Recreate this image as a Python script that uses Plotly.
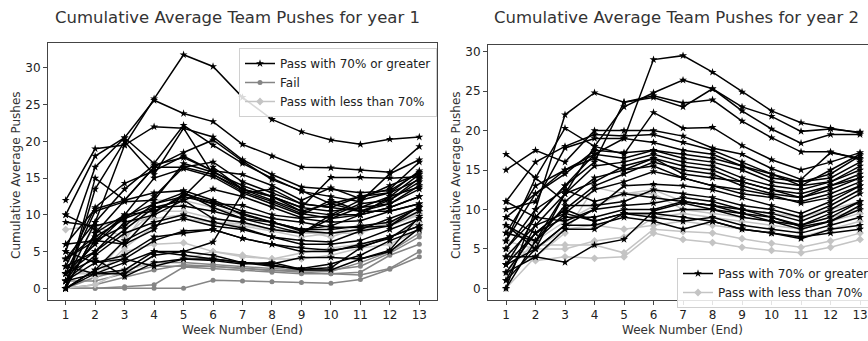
import plotly.graph_objects as go

weeks = list(range(1, 14))
week_labels = [str(w) for w in weeks]

# ---------------- Year 1 ----------------
y1_pass_high = [
    [1, 9, 19.5, 25.8, 31.8, 30.2, 26.0, 23.0, 21.3, 20.2, 19.6, 20.3, 20.6],
    [10, 18, 20.5, 25.6, 23.8, 22.7, 19.6, 18.0, 16.5, 16.4, 16.1, 15.8, 19.3],
    [12, 19, 19.5, 22.0, 21.8, 20.6, 17.5, 15.5, 13.8, 13.5, 13.0, 13.3, 15.8],
    [5, 16.5, 20.5, 17.0, 22.2, 19.5, 17.0, 15.0, 13.2, 12.5, 11.8, 15.6, 17.5],
    [0, 15, 12, 16.5, 18.5, 20.2, 17.3, 14.8, 13.3, 11.5, 12.5, 13.5, 17.2],
    [0, 13.5, 20, 15.5, 21.8, 15.5, 13.5, 12.5, 11.0, 15.1, 15.1, 15.0, 15.2],
    [3, 11, 14.3, 16.0, 18.0, 16.0, 15.5, 14.0, 12.0, 13.7, 12.2, 14.0, 15.6],
    [6, 10.8, 12.0, 16.5, 16.5, 17.2, 14.5, 13.0, 11.5, 11.0, 12.5, 13.0, 14.8],
    [4, 9.0, 13.5, 16.8, 17.8, 16.0, 13.5, 12.0, 10.5, 11.5, 10.5, 12.0, 14.5],
    [1, 6.5, 10.0, 15.0, 16.3, 15.2, 13.0, 11.5, 10.0, 12.0, 10.5, 11.5, 13.5],
    [9, 8.5, 9.5, 11.0, 12.0, 13.5, 12.5, 11.0, 9.6, 9.8, 11.5, 12.0, 15.0],
    [2, 6.0, 9.8, 11.5, 13.0, 11.5, 10.2, 9.0, 8.0, 8.5, 10.0, 11.0, 12.5],
    [0, 7.5, 10.0, 10.5, 12.5, 11.5, 11.3, 10.0, 9.5, 9.0, 9.2, 10.5, 11.5],
    [3, 5.0, 8.0, 11.0, 11.2, 10.5, 9.5, 9.0, 7.8, 7.5, 8.0, 9.5, 11.0],
    [1, 4.5, 7.5, 9.0, 10.0, 9.0, 8.2, 7.0, 6.5, 6.3, 7.8, 8.5, 10.5],
    [0, 2.5, 6.5, 8.5, 9.5, 8.5, 8.0, 7.0, 6.0, 6.0, 6.5, 8.0, 9.5],
    [5, 3.5, 4.5, 7.0, 7.5, 8.0, 6.8, 6.0, 5.5, 5.2, 5.7, 6.8, 9.5],
    [1, 2.0, 3.5, 5.0, 5.0, 6.3, 13.0, 13.5, 11.5, 11.0, 10.5, 10.5, 11.5],
    [0, 2.5, 4.0, 6.5, 7.8, 8.0, 6.8, 6.0, 5.0, 5.0, 6.0, 7.0, 8.5],
    [0, 2.0, 2.5, 5.0, 4.5, 4.0, 3.5, 3.3, 4.2, 4.2, 4.0, 5.0, 8.2],
    [2, 4.0, 1.6, 3.5, 4.0, 3.8, 3.3, 3.5, 2.6, 2.8, 5.5, 7.0, 8.5],
    [1, 3.5, 4.0, 3.0, 4.0, 4.0, 3.5, 3.0, 2.7, 3.3, 4.5, 6.5, 8.0],
    [3, 2.0, 2.0, 4.5, 5.0, 4.5, 3.5, 3.2, 2.5, 2.5, 4.0, 5.2, 9.8],
    [6, 6.5, 6.0, 10.3, 12.8, 11.8, 10.0, 9.0, 8.0, 8.0, 8.5, 9.0, 11.0],
    [2, 5.0, 9.0, 10.0, 12.0, 9.5, 9.0, 8.0, 7.5, 9.5, 11.0, 11.5, 14.0],
    [10, 8.0, 6.0, 8.0, 13.0, 11.0, 9.5, 8.5, 7.5, 10.0, 12.0, 13.0, 16.0],
    [0, 7.5, 12.0, 13.0, 13.3, 12.0, 10.5, 9.5, 9.0, 8.3, 8.3, 8.5, 11.2],
    [4, 6.5, 8.5, 11.5, 12.5, 16.5, 13.5, 12.5, 10.5, 10.0, 10.0, 11.0, 12.5],
    [2, 10.5, 11.8, 12.0, 17.0, 15.8, 14.0, 12.5, 11.0, 10.5, 11.0, 12.5, 13.8],
    [4, 7.0, 9.5, 12.5, 16.5, 15.5, 13.2, 11.8, 10.2, 9.5, 10.0, 12.5, 15.5],
]
y1_fail = [
    [0, 0, 0, 0, 0, 1.1, 1.0, 0.9, 0.8, 0.7, 1.2, 2.6, 4.3],
    [0, 0, 0.2, 0.5, 2.9, 2.7, 2.5, 2.2, 2.0, 2.0, 1.8, 2.7, 5.0],
    [0, 0.5, 1.5, 2.5, 3.2, 3.0, 2.8, 2.5, 2.2, 2.0, 2.2, 4.5, 6.0],
    [0, 1.5, 2.5, 3.5, 3.5, 3.2, 3.0, 2.7, 2.5, 2.5, 3.0, 4.8, 7.0],
    [1, 1.0, 2.0, 3.0, 3.0, 3.0, 2.7, 2.4, 2.4, 2.3, 3.5, 5.0, 7.5],
]
y1_pass_low = [
    [8, 8.5, 9.0, 9.5, 10.0, 9.0, 8.8, 8.0, 7.5, 7.5, 8.0, 8.8, 10.2],
    [4, 1.5, 5.5, 8.5, 9.5, 9.0, 8.5, 7.8, 7.0, 7.5, 8.5, 9.0, 10.0],
    [2, 2.0, 6.5, 12.0, 12.0, 11.0, 10.0, 9.0, 8.0, 7.5, 7.5, 9.0, 10.5],
    [3, 1.5, 5.0, 6.0, 6.2, 5.0, 4.3, 4.0, 4.8, 5.5, 6.0, 7.0, 9.0],
    [0, 0.5, 2.5, 3.5, 4.0, 5.0, 4.5, 4.0, 4.0, 4.5, 5.5, 6.0, 8.0],
    [2, 8.5, 7.0, 10.5, 10.5, 9.5, 9.0, 8.0, 7.8, 7.0, 8.3, 8.5, 10.0],
]

# ---------------- Year 2 ----------------
y2_pass_high = [
    [7, 13, 15, 17, 19, 29.0, 29.5, 27.4, 24.9, 22.5, 21.0, 20.3, 19.7],
    [4, 8, 12, 18, 23, 24.8, 26.4, 25.3, 23.0, 21.8, 19.9, 20.2, 19.8],
    [5, 10, 22.0, 24.8, 23.6, 24.2, 23.0, 25.3, 22.5, 20.2, 18.4, 19.5, 19.5],
    [3, 9, 13, 16, 23.6, 24.4, 23.5, 23.9, 21.2, 19.1, 17.3, 17.3, 16.3],
    [17, 14, 20.3, 18, 17, 22.3, 20.3, 20.4, 18.1, 16.3, 15.0, 16.0, 17.2],
    [15, 17.5, 16.0, 20.0, 20.0, 20.0, 19.3, 17.8, 17.0, 15.2, 13.8, 17.2, 16.5],
    [11, 16.0, 18.0, 19.5, 19.3, 19.5, 18.5, 17.5, 16.0, 14.5, 13.0, 15.0, 17.0],
    [10, 11, 17.8, 19.0, 19.0, 18.5, 17.5, 17.0, 15.5, 14.0, 13.5, 14.0, 16.0],
    [9, 12, 14.5, 17.5, 17.2, 17.5, 16.5, 16.0, 15.0, 13.5, 13.0, 13.5, 15.5],
    [8, 6, 12, 15.5, 16.0, 17.0, 16.0, 15.5, 14.0, 13.0, 12.5, 13.5, 15.0],
    [6, 14, 11, 14.0, 15.0, 16.5, 15.5, 15.0, 13.5, 12.5, 12.0, 13.0, 14.5],
    [2, 7, 10, 13.0, 14.5, 16.0, 15.0, 14.5, 13.0, 12.0, 11.5, 12.5, 14.0],
    [1, 8, 9.5, 12.5, 13.5, 14.8, 14.0, 13.0, 12.0, 11.5, 11.0, 12.0, 13.5],
    [5, 9, 8.5, 10.0, 13.0, 13.2, 13.0, 12.5, 11.5, 10.5, 9.5, 11.0, 13.0],
    [0, 6, 10.5, 10.5, 11.0, 12.5, 12.0, 11.5, 10.5, 10.0, 9.0, 10.5, 12.5],
    [3, 5, 8.0, 10.0, 10.5, 10.8, 11.5, 11.0, 10.0, 9.5, 8.5, 10.0, 12.0],
    [7, 6, 9.5, 8.5, 9.5, 9.5, 10.0, 10.0, 9.0, 8.5, 8.0, 9.5, 11.0],
    [4, 4, 3.3, 5.5, 6.2, 9.8, 10.8, 10.0, 9.5, 8.5, 7.5, 8.5, 10.5],
    [2, 4, 7.5, 7.5, 9.5, 9.5, 9.0, 8.5, 7.5, 7.0, 6.3, 7.5, 8.0],
    [1, 5, 8.0, 8.0, 9.0, 8.5, 7.5, 8.5, 7.5, 7.0, 6.5, 7.0, 7.5],
    [9, 7, 10, 8.5, 9.5, 9.0, 8.5, 9.0, 8.0, 7.5, 7.0, 8.0, 9.0],
    [0, 10, 12.5, 11.0, 12.0, 11.5, 11.0, 10.5, 9.5, 9.0, 8.0, 9.0, 11.0],
    [6, 12, 15, 16.5, 15.0, 15.5, 14.0, 13.0, 12.5, 11.8, 10.8, 11.5, 13.0],
    [3, 7, 9, 9.0, 10.0, 10.0, 11.0, 10.5, 10.0, 9.0, 7.8, 8.5, 10.0],
    [8, 5, 12, 13.5, 15.5, 16.5, 14.5, 14.0, 13.5, 12.5, 11.5, 13.0, 14.0],
    [11, 9, 13, 17.0, 16.5, 17.5, 17.0, 16.5, 15.5, 14.5, 13.5, 14.5, 16.8],
]
y2_pass_low = [
    [5, 3.5, 4.0, 3.8, 4.0, 7.0, 6.2, 5.8, 5.2, 4.8, 4.5, 5.2, 6.2],
    [8, 5.5, 5.5, 5.5, 4.5, 7.5, 7.2, 7.0, 6.3, 5.7, 5.2, 6.0, 7.0],
    [6, 5, 7.5, 8.0, 7.5, 8.0, 8.5, 8.0, 7.5, 7.0, 6.5, 7.5, 8.5],
    [0, 4, 7.0, 12.8, 12.0, 12.0, 10.0, 9.5, 9.0, 8.5, 8.0, 9.0, 10.0],
    [2, 6, 8.5, 10.5, 12.0, 12.5, 11.0, 10.5, 10.0, 9.5, 9.0, 10.0, 11.0],
    [4, 5, 5.0, 6.0, 6.5, 9.0, 9.5, 9.0, 8.5, 8.0, 7.5, 8.5, 9.5],
]

W, H = 868, 341
FONT = "DejaVu Sans"
C_HIGH, C_FAIL, C_LOW = "black", "#858585", "#c4c4c4"

fig = go.Figure()


def add_group(data, name, color, symbol, msize, xa, ya, legend, rank):
    for i, ys in enumerate(data):
        fig.add_trace(go.Scatter(
            x=weeks, y=ys, mode="lines+markers", name=name,
            line=dict(color=color, width=1.5),
            marker=dict(symbol=symbol, size=msize, color=color),
            xaxis=xa, yaxis=ya, legend=legend, legendgroup=legend + name,
            showlegend=(i == 0), legendrank=rank,
        ))


add_group(y1_fail, "Fail", C_FAIL, "circle", 5, "x", "y", "legend", 2)
add_group(y1_pass_low, "Pass with less than 70%", C_LOW, "diamond", 6, "x", "y", "legend", 3)
add_group(y1_pass_high, "Pass with 70% or greater", C_HIGH, "star", 6, "x", "y", "legend", 1)

add_group(y2_pass_low, "Pass with less than 70%", C_LOW, "diamond", 6, "x2", "y2", "legend2", 2)
add_group(y2_pass_high, "Pass with 70% or greater", C_HIGH, "star", 6, "x2", "y2", "legend2", 1)

axis_common = dict(
    showgrid=False, zeroline=False, showline=True, linecolor="#444", linewidth=1,
    ticks="outside", ticklen=4, tickcolor="#444",
    tickfont=dict(family=FONT, size=12, color="#222"),
)

legend_common = dict(
    xanchor="left", yanchor="top",
    bgcolor="rgba(255,255,255,0.85)", bordercolor="#d0d0d0", borderwidth=1,
    font=dict(family=FONT, size=12, color="#222"), tracegroupgap=0, itemwidth=30,
)

fig.update_layout(
    width=W, height=H, autosize=False,
    margin=dict(l=0, r=0, t=0, b=0, autoexpand=False),
    paper_bgcolor="white", plot_bgcolor="white",
    font=dict(family=FONT, size=12, color="#222"),
    xaxis=dict(domain=[48 / W, 437 / W], range=[0.4, 13.6], tickvals=weeks,
               ticktext=week_labels, mirror=True, anchor="y", **axis_common),
    yaxis=dict(domain=[1 - 300 / H, 1 - 43 / H], range=[-1.59, 33.4],
               tickvals=[0, 5, 10, 15, 20, 25, 30], mirror=True, anchor="x", **axis_common),
    xaxis2=dict(domain=[488 / W, 1.0], range=[0.39, 13.27], tickvals=weeks,
                ticktext=week_labels, mirror=True, anchor="y2", **axis_common),
    yaxis2=dict(domain=[1 - 300 / H, 1 - 45 / H], range=[-1.48, 30.85],
                tickvals=[0, 5, 10, 15, 20, 25, 30], mirror=False, anchor="x2", **axis_common),
    legend=dict(x=239 / W, y=1 - 48 / H, **legend_common),
    legend2=dict(x=677 / W, y=1 - 258 / H, **legend_common),
)

ann = [
    dict(text="Cumulative Average Team Pushes for year 1", x=237 / W, y=1 - 18 / H,
         font=dict(size=16.5)),
    dict(text="Cumulative Average Team Pushes for year 2", x=676 / W, y=1 - 18 / H,
         font=dict(size=16.5)),
    dict(text="Week Number (End)", x=242 / W, y=1 - 330 / H, font=dict(size=12)),
    dict(text="Week Number (End)", x=682 / W, y=1 - 330 / H, font=dict(size=12)),
    dict(text="Cumulative Average Pushes", x=16 / W, y=1 - 175 / H, textangle=-90,
         font=dict(size=12)),
    dict(text="Cumulative Average Pushes", x=456 / W, y=1 - 175 / H, textangle=-90,
         font=dict(size=12)),
]
for a in ann:
    fig.add_annotation(xref="paper", yref="paper", showarrow=False,
                       xanchor="center", yanchor="middle",
                       font_family=FONT, font_color="#333", **a)

post = (
    "var gd=document.getElementById('{plot_id}');"
    "var css='margin:0;padding:0;overflow:hidden;width:868px;height:341px;';"
    "document.documentElement.style.cssText=css;"
    "document.body.style.cssText=css;"
    "gd.parentElement.style.cssText=css;"
    "gd.style.display='block';"
)

fig.write_html(
    "out.html",
    config={"responsive": False, "displayModeBar": False},
    post_script=post,
)
